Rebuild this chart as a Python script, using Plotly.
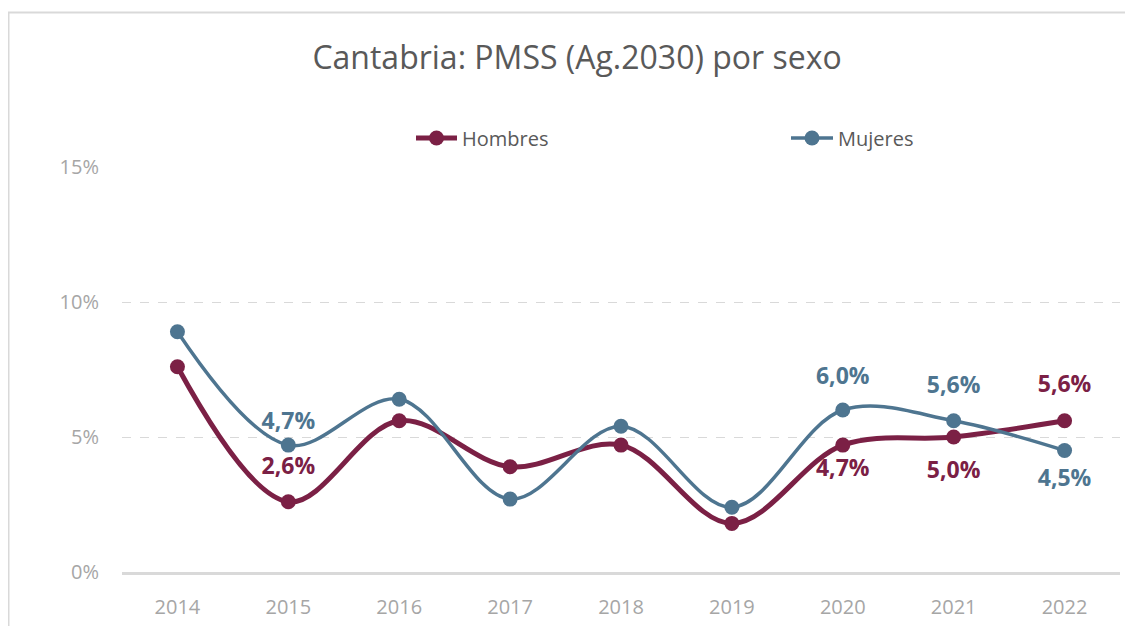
import plotly.graph_objects as go

years = ["2014", "2015", "2016", "2017", "2018", "2019", "2020", "2021", "2022"]
hombres = [7.6, 2.6, 5.6, 3.9, 4.7, 1.8, 4.7, 5.0, 5.6]
mujeres = [8.9, 4.7, 6.4, 2.7, 5.4, 2.4, 6.0, 5.6, 4.5]
labelled = [False, True, False, False, False, False, True, True, True]
hombres_pos = ["top center", "top center", "top center", "top center", "top center",
               "top center", "bottom center", "bottom center", "top center"]
mujeres_pos = ["top center", "top center", "top center", "top center", "top center",
               "top center", "top center", "top center", "bottom center"]
# label gap (drives the spacing of each data label from its point)
hombres_gap = [15, 33, 15, 15, 15, 15, 21, 37, 35]
mujeres_gap = [15, 15, 15, 15, 15, 15, 31, 33, 27]

C_H = "#7b2045"
C_M = "#4e7590"
FONT = "Open Sans"


def fmt(v, show):
    return (f"{v:.1f}%".replace(".", ",")) if show else ""


fig = go.Figure()
fig.add_trace(go.Scatter(
    x=years, y=[v / 100 for v in hombres], name="Hombres", legend="legend2",
    mode="lines+markers",
    line=dict(color=C_H, width=5, shape="spline", smoothing=1.0),
    marker=dict(color=C_H, size=15, line=dict(width=0)), hoverinfo="x+y",
))
fig.add_trace(go.Scatter(
    x=years, y=[v / 100 for v in mujeres], name="Mujeres", legend="legend3",
    mode="lines+markers",
    line=dict(color=C_M, width=3.5, shape="spline", smoothing=1.0),
    marker=dict(color=C_M, size=15, line=dict(width=0)), hoverinfo="x+y",
))
for vals, pos, gap, col in ((hombres, hombres_pos, hombres_gap, C_H),
                            (mujeres, mujeres_pos, mujeres_gap, C_M)):
    fig.add_trace(go.Scatter(
        x=years, y=[v / 100 for v in vals], mode="markers+text", showlegend=False,
        marker=dict(size=gap, color="rgba(0,0,0,0)", line=dict(width=0, color="rgba(0,0,0,0)")),
        hoverinfo="skip",
        text=[fmt(v, s) for v, s in zip(vals, labelled)], textposition=pos,
        textfont=dict(family=FONT, size=23, color=col, weight="bold"),
        cliponaxis=False,
    ))

# page has an 8px body margin; figure coordinates are page coordinates minus 8
OFF = 8
W, H = 1133 - OFF, 626 - OFF
L, R, T, B = 122 - OFF, 13, 167 - OFF, 54
pw = W - L - R
ph = H - T - B

legfont = dict(family=FONT, size=20, color="#595959")
leg_y = (H - B - (138 - OFF)) / ph

fig.update_layout(
    width=W, height=H,
    margin=dict(l=L, r=R, t=T, b=B, autoexpand=False),
    paper_bgcolor="white", plot_bgcolor="white",
    separators=",.",
    title=dict(text="Cantabria: PMSS (Ag.2030) por sexo", x=(577 - OFF) / W, xanchor="center",
               y=1 - (58 - OFF) / H, yanchor="middle",
               font=dict(family=FONT, size=32, color="#595959")),
    legend2=dict(orientation="h", x=(411 - OFF - L) / pw, xanchor="left", itemwidth=41,
                 y=leg_y, yanchor="middle", font=legfont, bgcolor="rgba(0,0,0,0)"),
    legend3=dict(orientation="h", x=(786 - OFF - L) / pw, xanchor="left", itemwidth=42,
                 y=leg_y, yanchor="middle", font=legfont, bgcolor="rgba(0,0,0,0)"),
    xaxis=dict(type="category", range=[-0.5, 8.5], showgrid=False,
               showline=True, linecolor="#d9d9d9", linewidth=2.5,
               ticks="", ticklabelstandoff=15,
               tickfont=dict(family=FONT, size=20, color="#a6a6a6")),
    yaxis=dict(range=[0, 0.15], dtick=0.05, tickformat=".0%",
               showgrid=True, gridcolor="#d9d9d9", gridwidth=1, griddash="dash",
               zeroline=False, showline=False, ticks="", ticklabelstandoff=22,
               tickfont=dict(family=FONT, size=20, color="#a6a6a6")),
    shapes=[dict(type="rect", xref="paper", yref="paper",
                 x0=(8.5 - OFF - L) / pw, x1=1.05, y0=-0.3, y1=(H - B - (12.5 - OFF)) / ph,
                 line=dict(color="#d9d9d9", width=2), fillcolor="rgba(0,0,0,0)",
                 layer="below")],
)

fig.write_html("out.html")
